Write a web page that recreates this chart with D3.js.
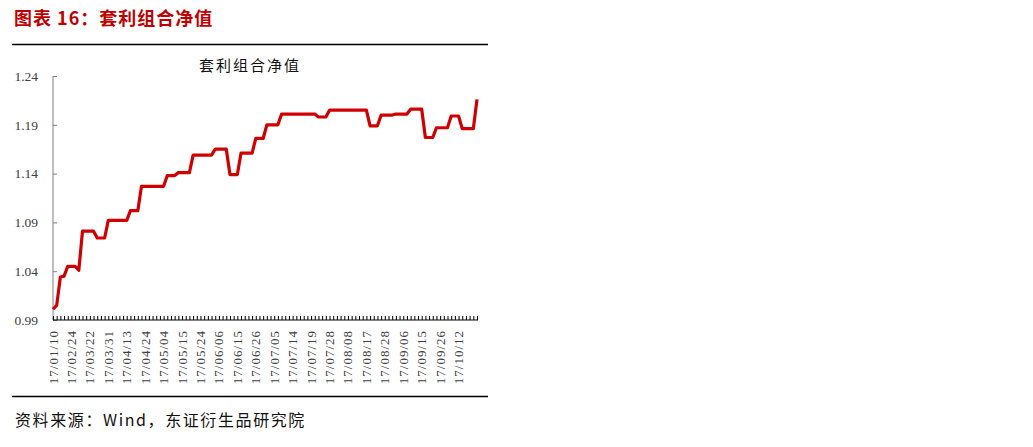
<!DOCTYPE html>
<html>
<head>
<meta charset="utf-8">
<script src="https://cdn.jsdelivr.net/npm/d3@7/dist/d3.min.js"></script>
<style>
  body { margin: 0; background: #fff; }
  svg { display: block; }
  .tick-label { font-family: "Liberation Serif", "DejaVu Serif", serif; fill: #404040; }
</style>
</head>
<body>
<svg id="chart" width="1033" height="447"></svg>
<script>
// net value of the arbitrage portfolio, one entry per category on the axis
const values = [
  1.001, 1.005, 1.034, 1.035, 1.045, 1.045, 1.045, 1.041, 1.081, 1.081,
  1.081, 1.081, 1.074, 1.074, 1.074, 1.092, 1.092, 1.092, 1.092, 1.092,
  1.092, 1.102, 1.102, 1.102, 1.127, 1.127, 1.127, 1.127, 1.127, 1.127,
  1.127, 1.138, 1.138, 1.138, 1.141, 1.141, 1.141, 1.141, 1.159, 1.159,
  1.159, 1.159, 1.159, 1.159, 1.165, 1.165, 1.165, 1.165, 1.139, 1.139,
  1.139, 1.161, 1.161, 1.161, 1.161, 1.176, 1.176, 1.176, 1.190, 1.190,
  1.190, 1.190, 1.201, 1.201, 1.201, 1.201, 1.201, 1.201, 1.201, 1.201,
  1.201, 1.201, 1.198, 1.198, 1.198, 1.205, 1.205, 1.205, 1.205, 1.205,
  1.205, 1.205, 1.205, 1.205, 1.205, 1.205, 1.189, 1.189, 1.189, 1.200,
  1.200, 1.200, 1.200, 1.201, 1.201, 1.201, 1.201, 1.206, 1.206, 1.206,
  1.206, 1.177, 1.177, 1.177, 1.187, 1.187, 1.187, 1.187, 1.199, 1.199,
  1.199, 1.186, 1.186, 1.186, 1.186, 1.216
];

// labels shown on the category axis, one every labelStep categories
const dateLabels = [
  "17/01/10", "17/02/24", "17/03/22", "17/03/31", "17/04/13", "17/04/24",
  "17/05/04", "17/05/15", "17/05/24", "17/06/06", "17/06/15", "17/06/26",
  "17/07/05", "17/07/14", "17/07/19", "17/07/28", "17/08/08", "17/08/17",
  "17/08/28", "17/09/06", "17/09/15", "17/09/26", "17/10/12"
];
const labelStep = 5;

const yTicks = [0.99, 1.04, 1.09, 1.14, 1.19, 1.24];

const svg = d3.select("#chart");

const plot = {left: 53, right: 477, top: 76, bottom: 320};

const x = d3.scaleLinear()
    .domain([0, values.length - 1])
    .range([plot.left, plot.right]);

const y = d3.scaleLinear()
    .domain([0.99, 1.24])
    .range([plot.bottom, plot.top]);

// report header
svg.append("text")
    .attr("x", 14)
    .attr("y", 25)
    .attr("fill", "#c00000")
    .attr("font-family", "Noto Sans CJK SC")
    .attr("font-size", 18)
    .attr("font-weight", "bold")
    .attr("letter-spacing", 1)
    .text("图表 16：套利组合净值");

svg.append("line")
    .attr("x1", 12).attr("x2", 488)
    .attr("y1", 44.5).attr("y2", 44.5)
    .attr("stroke", "#000")
    .attr("stroke-width", 1.3);

svg.append("line")
    .attr("x1", 12).attr("x2", 488)
    .attr("y1", 396.5).attr("y2", 396.5)
    .attr("stroke", "#000")
    .attr("stroke-width", 1.3);

svg.append("text")
    .attr("x", 15)
    .attr("y", 426)
    .attr("fill", "#111")
    .attr("font-family", "Noto Sans CJK SC")
    .attr("font-size", 16)
    .attr("letter-spacing", 1.6)
    .text("资料来源：Wind，东证衍生品研究院");

// chart title
svg.append("text")
    .attr("x", 250)
    .attr("y", 71)
    .attr("text-anchor", "middle")
    .attr("fill", "#111")
    .attr("font-family", "Noto Sans CJK SC")
    .attr("font-size", 15)
    .attr("letter-spacing", 2)
    .text("套利组合净值");

// y axis
const yAxis = d3.axisLeft(y)
    .tickValues(yTicks)
    .tickSize(-4)
    .tickPadding(15)
    .tickFormat(d3.format(".2f"));

const gy = svg.append("g")
    .attr("transform", `translate(${plot.left},0)`)
    .call(yAxis);
gy.select(".domain").attr("stroke", "#808080").attr("d", `M0,${plot.top}V${plot.bottom}`);
gy.selectAll(".tick line").attr("stroke", "#808080");
gy.selectAll(".tick text")
    .attr("class", "tick-label")
    .attr("font-size", 13.5)
    .attr("fill", "#404040");

// x axis: a tick at every category, labels every labelStep
const xAxis = d3.axisBottom(x)
    .tickValues(d3.range(values.length))
    .tickSize(-4)
    .tickFormat(() => "");

const gx = svg.append("g")
    .attr("transform", `translate(0,${plot.bottom})`)
    .call(xAxis);
gx.select(".domain").attr("stroke", "#000").attr("d", `M${plot.left},0H${plot.right + 1}`);
gx.selectAll(".tick line").attr("stroke", "#000");

svg.append("g")
    .selectAll("text")
    .data(dateLabels)
    .join("text")
    .attr("class", "tick-label")
    .attr("transform", (d, i) => `translate(${x(i * labelStep) + 4.5},330) rotate(-90)`)
    .attr("text-anchor", "end")
    .attr("font-size", 13)
    .attr("letter-spacing", 1)
    .text(d => d);

// series
const line = d3.line()
    .x((d, i) => x(i))
    .y(d => y(d));

svg.append("path")
    .datum(values)
    .attr("fill", "none")
    .attr("stroke", "#d00000")
    .attr("stroke-width", 3.2)
    .attr("stroke-linejoin", "round")
    .attr("d", line);
</script>
</body>
</html>
